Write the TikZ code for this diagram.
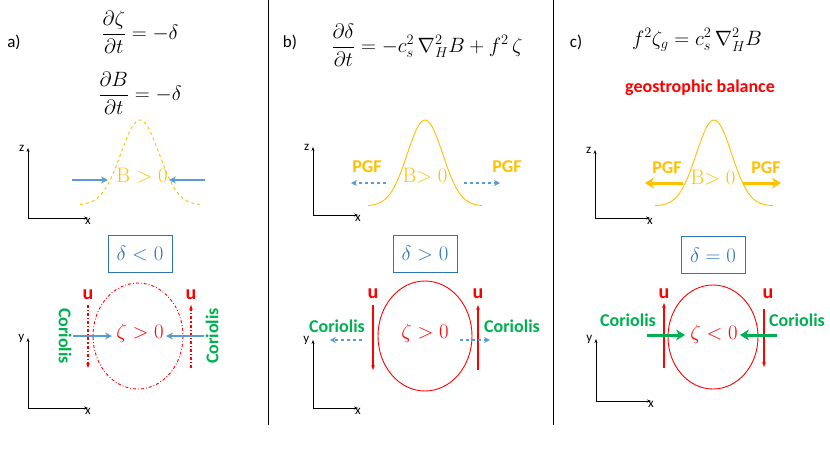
\documentclass[tikz,border=0pt]{standalone}
\usepackage{amsmath}
\usepackage{fontspec}
\newfontfamily\carl{Carlito}
\usetikzlibrary{arrows.meta}
\definecolor{org}{HTML}{FFC000}
\definecolor{bl}{HTML}{5B9BD5}
\definecolor{bx}{HTML}{2E75B6}
\definecolor{gr}{HTML}{00B050}
\definecolor{rd}{HTML}{FF0000}
\newcommand{\fs}[1]{\fontsize{#1}{#1}\selectfont}
\tikzset{
 ax/.style={-{Stealth[length=4pt]},line width=0.8pt},
 axl/.style={font=\carl\fs{13}},
 gauss/.style={org,line width=0.9pt},
 dbox/.style={draw=bx,line width=0.9pt,minimum width=64pt,minimum height=37pt,text=bx,font=\fs{20}},
 ell/.style={rd,line width=0.9pt},
 uarr/.style={rd,line width=1.1pt,-{Stealth[length=5pt]}},
 ulab/.style={text=rd,font=\carl\bfseries\fs{20}},
 corl/.style={text=gr,font=\carl\bfseries\fs{18}},
 pgfl/.style={text=org,font=\carl\bfseries\fs{18}},
 barr/.style={bl,line width=1.5pt,-{Stealth[length=7pt,width=7pt]}},
 dashb/.style={bl,line width=1.3pt,dashed,-{Stealth[length=6pt,width=6pt]}},
 garr/.style={gr,line width=3pt,-{Stealth[length=9pt,width=11pt]}},
 oarr/.style={org,line width=3pt,-{Stealth[length=9pt,width=11pt]}},
 eq/.style={font=\fs{20}},
 val/.style={font=\fs{21}},
 pl/.style={font=\carl\fs{17}},
}
\begin{document}
\begin{tikzpicture}[x=1pt,y=-1pt]
\useasboundingbox (0,0) rectangle (830,467);
\draw[line width=0.8pt] (268,0) -- (268,425);
\draw[line width=0.8pt] (553,0) -- (553,425);
% panel a
\node[pl] (la) at (14,42) {a)};
\node[eq] (ea1) at (140,32) {$\dfrac{\partial\zeta}{\partial t}=-\delta$};
\node[eq] (ea2) at (140,93) {$\dfrac{\partial B}{\partial t}=-\delta$};
\coordinate (oa1) at (28,218);
\draw[ax] (oa1) -- ++(0,-70) node[left,axl,pos=1] {z};
\draw[ax] (oa1) -- ++(60,0) node[below,axl,pos=1,yshift=3pt] {x};
\draw[gauss,dashed,domain=80:200,samples=80] plot ({\x},{205-85*exp(-((\x-140)/27)^2)});
\node[text=org,val] (ba) at (142,176) {B $>0$};
\coordinate (pa1) at (72,180); \coordinate (pa2) at (108,180);
\coordinate (pa3) at (205,180); \coordinate (pa4) at (169,180);
\draw[barr] (pa1) -- (pa2); \draw[barr] (pa3) -- (pa4);
\node[dbox] (da) at (140,254) {$\delta<0$};
\draw[ell,dash dot] (138,336) ellipse (45 and 53);
\node[text=rd,val] (za) at (140,333) {$\zeta>0$};
\coordinate (ua1) at (88,305); \coordinate (ua2) at (88,368);
\coordinate (ua3) at (191,368); \coordinate (ua4) at (191,305);
\draw[uarr,dash dot] (ua1) -- (ua2); \draw[uarr,dash dot] (ua3) -- (ua4);
\node[ulab] (ula) at (88,295) {u}; \node[ulab] (ulb) at (191,295) {u};
\coordinate (ca1) at (73,336); \coordinate (ca2) at (112,336);
\coordinate (ca3) at (204,336); \coordinate (ca4) at (166,336);
\draw[barr] (ca1) -- (ca2); \draw[barr] (ca3) -- (ca4);
\node[corl,rotate=-90] (cla) at (65,336) {Coriolis};
\node[corl,rotate=90] (clb) at (212,336) {Coriolis};
\coordinate (oa2) at (28,408);
\draw[ax] (oa2) -- ++(0,-70) node[left,axl,pos=1] {y};
\draw[ax] (oa2) -- ++(60,0) node[below,axl,pos=1,yshift=3pt] {x};
% panel b
\node[pl] (lb) at (290,42) {b)};
\node[eq] (eb) at (427,45) {$\dfrac{\partial\delta}{\partial t}=-c_s^2\,\nabla_H^2 B+f^2\,\zeta$};
\coordinate (ob1) at (313,215);
\draw[ax] (ob1) -- ++(0,-68) node[left,axl,pos=1] {z};
\draw[ax] (ob1) -- ++(45,0) node[below,axl,pos=1,yshift=3pt] {x};
\draw[gauss,domain=368:482,samples=80] plot ({\x},{206-86*exp(-((\x-425)/25)^2)});
\node[text=org,val] (bb) at (425,176) {B$>0$};
\coordinate (pb1) at (386,183); \coordinate (pb2) at (351,183);
\coordinate (pb3) at (464,183); \coordinate (pb4) at (500,183);
\draw[dashb] (pb1) -- (pb2); \draw[dashb] (pb3) -- (pb4);
\node[pgfl] (pgb1) at (367,167) {PGF}; \node[pgfl] (pgb2) at (507,167) {PGF};
\node[dbox] (db) at (425,254) {$\delta>0$};
\draw[ell] (425,336) ellipse (47 and 55);
\node[text=rd,val] (zb) at (425,333) {$\zeta>0$};
\coordinate (ub1) at (373,305); \coordinate (ub2) at (373,370);
\coordinate (ub3) at (478,370); \coordinate (ub4) at (478,305);
\draw[uarr] (ub1) -- (ub2); \draw[uarr] (ub3) -- (ub4);
\node[ulab] (ulc) at (373,294) {u}; \node[ulab] (uld) at (478,294) {u};
\coordinate (cb1) at (362,340); \coordinate (cb2) at (330,340);
\coordinate (cb3) at (460,340); \coordinate (cb4) at (490,340);
\draw[dashb] (cb1) -- (cb2); \draw[dashb] (cb3) -- (cb4);
\node[corl] (clc) at (337,326) {Coriolis}; \node[corl] (cld) at (512,326) {Coriolis};
\coordinate (ob2) at (313,408);
\draw[ax] (ob2) -- ++(0,-68) node[left,axl,pos=1] {y};
\draw[ax] (ob2) -- ++(45,0) node[below,axl,pos=1,yshift=3pt] {x};
% panel c
\node[pl] (lc) at (576,42) {c)};
\node[eq] (ec) at (697,40) {$f^2\zeta_g=c_s^2\,\nabla_H^2 B$};
\node[text=rd,font=\carl\bfseries\fs{18}] (geo) at (700,88) {geostrophic balance};
\coordinate (oc1) at (595,218);
\draw[ax] (oc1) -- ++(0,-68) node[left,axl,pos=1] {z};
\draw[ax] (oc1) -- ++(55,0) node[below,axl,pos=1,yshift=3pt] {x};
\draw[gauss,domain=655:773,samples=80] plot ({\x},{206-86*exp(-((\x-714)/25)^2)});
\node[text=org,val] (bc) at (713,178) {B$>0$};
\coordinate (pc1) at (683,183); \coordinate (pc2) at (645,183);
\coordinate (pc3) at (743,183); \coordinate (pc4) at (781,183);
\draw[oarr] (pc1) -- (pc2); \draw[oarr] (pc3) -- (pc4);
\node[pgfl] (pgc1) at (667,168) {PGF}; \node[pgfl] (pgc2) at (766,168) {PGF};
\node[dbox] (dc) at (713,255) {$\delta=0$};
\draw[ell] (713,337) ellipse (45 and 52);
\node[text=rd,val] (zc) at (714,334) {$\zeta<0$};
\coordinate (uc1) at (664,368); \coordinate (uc2) at (664,303);
\coordinate (uc3) at (764,309); \coordinate (uc4) at (764,367);
\draw[uarr] (uc1) -- (uc2); \draw[uarr] (uc3) -- (uc4);
\node[ulab] (ule) at (664,294) {u}; \node[ulab] (ulf) at (768,294) {u};
\coordinate (cc1) at (647,335); \coordinate (cc2) at (685,335);
\coordinate (cc3) at (777,335); \coordinate (cc4) at (740,335);
\draw[garr] (cc1) -- (cc2); \draw[garr] (cc3) -- (cc4);
\node[corl] (cle) at (628,320) {Coriolis}; \node[corl] (clf) at (797,320) {Coriolis};
\coordinate (oc2) at (596,401);
\draw[ax] (oc2) -- ++(0,-62) node[left,axl,pos=1] {y};
\draw[ax] (oc2) -- ++(55,0) node[below,axl,pos=1,yshift=3pt] {x};
\end{tikzpicture}
\end{document}
